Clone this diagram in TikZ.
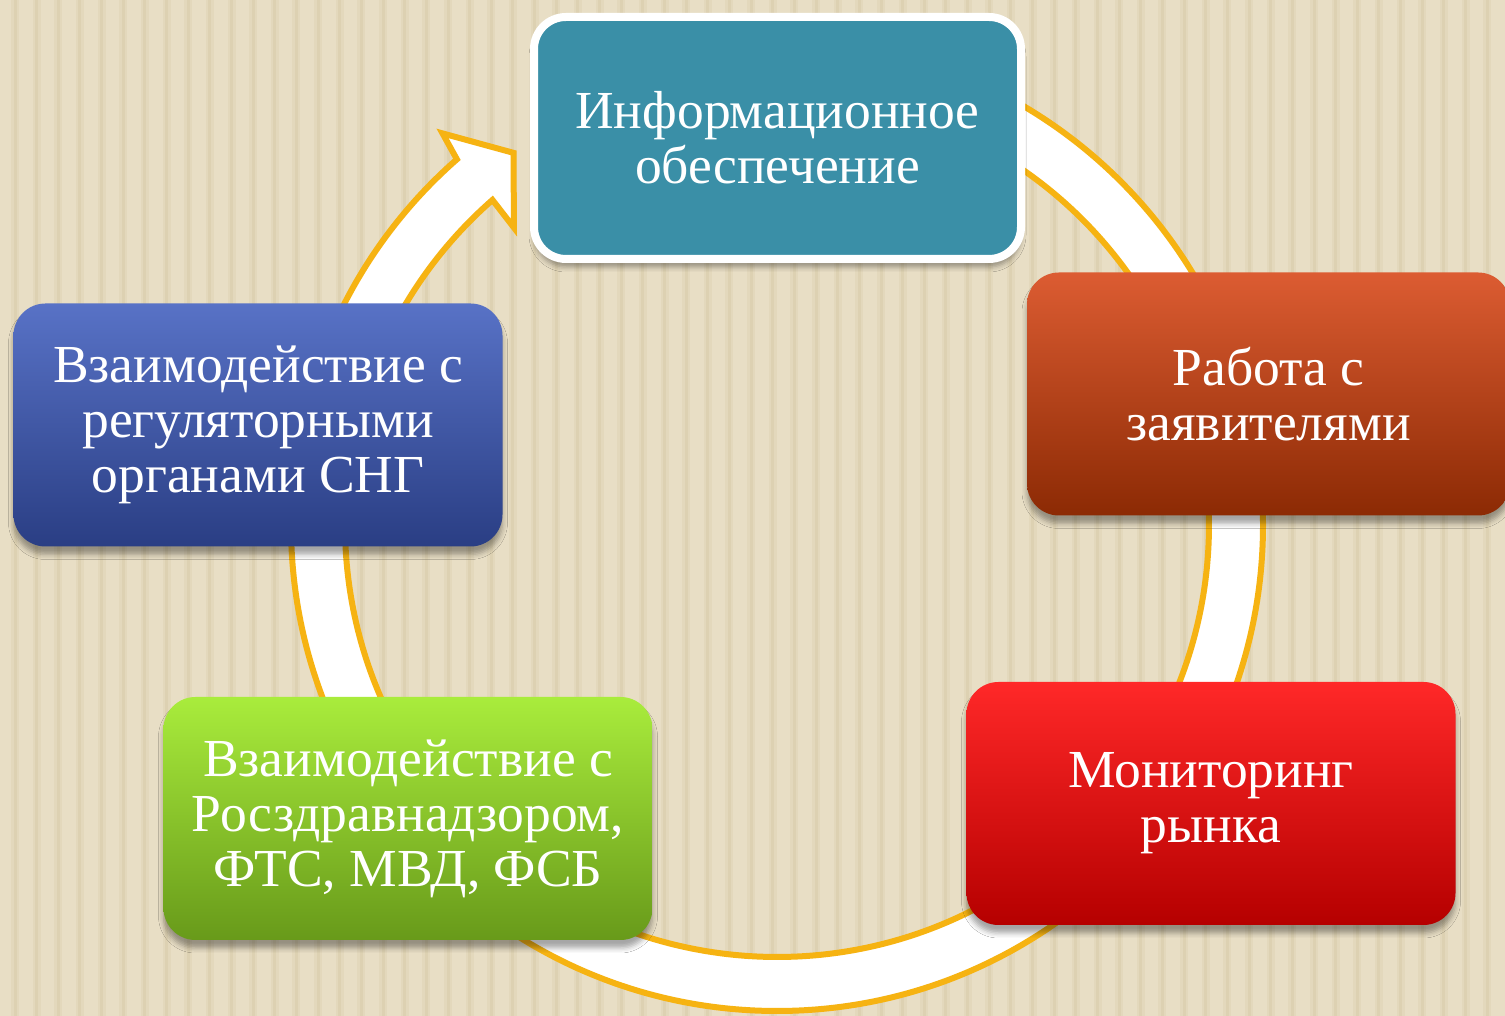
\documentclass[tikz,border=0pt]{standalone}
\usepackage{fontspec}
\setmainfont{Liberation Serif}
\usetikzlibrary{shadows.blur}
\definecolor{bg}{HTML}{E8DEC5}
\definecolor{stripe}{HTML}{DDD1B2}
\definecolor{ringor}{HTML}{F6B312}
\definecolor{teal}{HTML}{3A8FA7}
\definecolor{blueT}{HTML}{5872C6}
\definecolor{blueB}{HTML}{2A3E84}
\definecolor{greenT}{HTML}{A9EC3C}
\definecolor{greenB}{HTML}{689A1A}
\definecolor{redT}{HTML}{FF2828}
\definecolor{redB}{HTML}{B50000}
\definecolor{orT}{HTML}{DC5C32}
\definecolor{orB}{HTML}{8C2A04}
\tikzset{
  box/.style={rounded corners=32, minimum width=489, minimum height=243,
    text=white, align=center, inner sep=0pt,
    font=\fontsize{53.5}{55}\selectfont,
    blur shadow={shadow xshift=0pt, shadow yshift=-8pt, shadow blur radius=5pt,
      shadow blur extra rounding=0pt, shadow opacity=35}},
  ring/.style={draw=ringor, line width=6, fill=white, line join=miter}
}
\begin{document}
\begin{tikzpicture}[x=1pt,y=1pt]
\useasboundingbox (0,0) rectangle (1505,1016);
\fill[bg] (0,0) rectangle (1505,1016);
\foreach \i in {0,...,69} {
  \fill[stripe, opacity=0.45] ({15+21.65*\i-4},0) rectangle +(8,1016);
  \fill[stripe] ({15+21.65*\i-1.5},0) rectangle +(3,1016);
}
% circular arrow
\begin{scope}[shift={(777,491)}]
\draw[ring] (90:486) arc[start angle=90, end angle=-228.8, radius=486]
  -- (130.5:515) -- (125.3:456) -- (131.5:397) -- (131.2:432)
  arc[start angle=-228.8, end angle=90, radius=432] -- cycle;
\end{scope}
% boxes
\node[box, fill=teal, draw=white, line width=8, minimum width=487, minimum height=242]
  (info) at (777.5,878) {Информационное\\обеспечение};
\node[box, top color=orT, bottom color=orB, minimum width=483]
  (work) at (1268.5,622) {Работа с\\заявителями};
\node[box, top color=redT, bottom color=redB]
  (mon) at (1211,212.5) {Мониторинг\\рынка};
\node[box, top color=greenT, bottom color=greenB]
  (gov) at (408,197.5) {Взаимодействие с\\Росздравнадзором,\\ФТС, МВД, ФСБ};
\node[box, top color=blueT, bottom color=blueB]
  (cis) at (258,591) {Взаимодействие с\\регуляторными\\органами СНГ};
\end{tikzpicture}
\end{document}
